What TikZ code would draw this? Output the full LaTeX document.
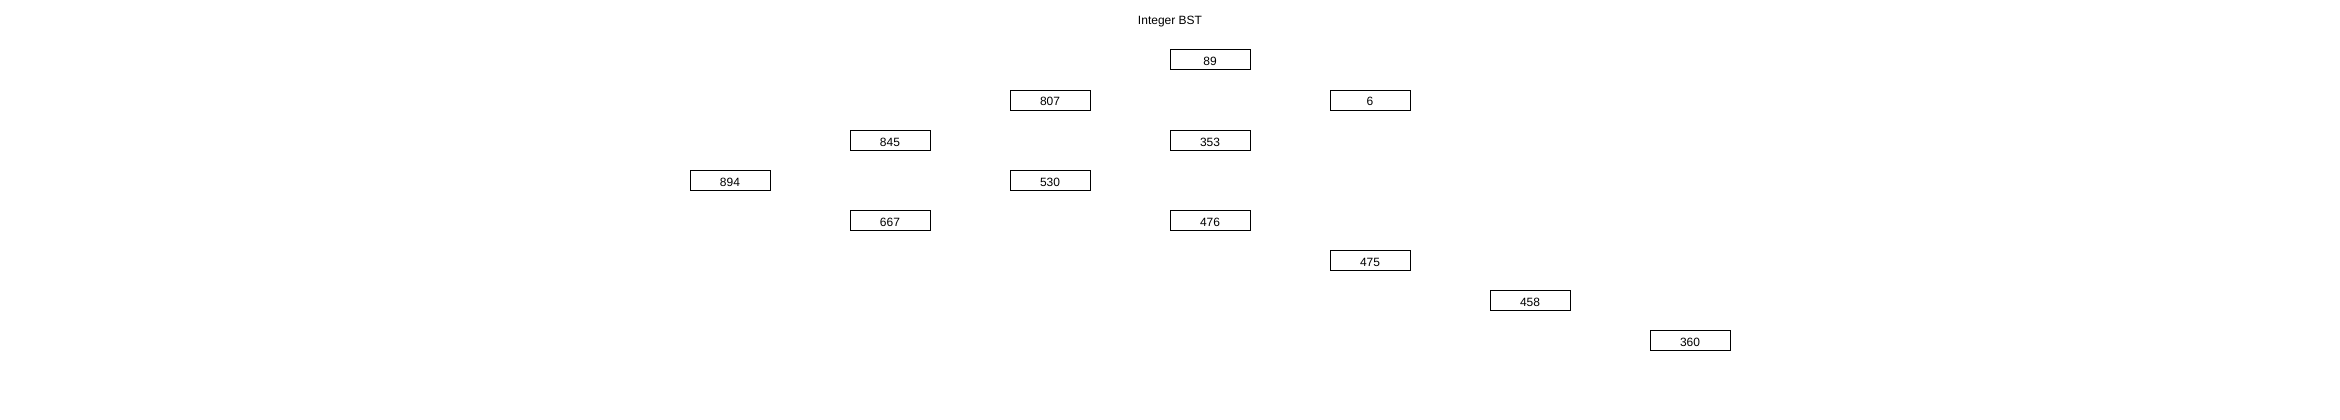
\documentclass[tikz,border=0pt]{standalone}
\usepackage{fontspec}
\setmainfont{Liberation Sans}
\begin{document}
\begin{tikzpicture}[x=1pt,y=-1pt,
  bstnode/.style={draw=black,line width=1pt,minimum width=80pt,minimum height=20pt,inner sep=0pt,text height=12pt,text depth=0pt,font=\fontsize{12}{14}\selectfont,anchor=center},
  titlestyle/.style={font=\fontsize{12}{14}\selectfont,inner sep=0pt,anchor=base}]
\fill[white] (0,0) rectangle (2340,420);
\useasboundingbox (0,0) rectangle (2340,420);
\node[titlestyle] (title) at (1170,25) {Integer BST};
\node[bstnode] (n89) at (1210,60) {89};
\node[bstnode] (n807) at (1050,100) {807};
\node[bstnode] (n6) at (1370,100) {6};
\node[bstnode] (n845) at (890,140) {845};
\node[bstnode] (n353) at (1210,140) {353};
\node[bstnode] (n894) at (730,180) {894};
\node[bstnode] (n530) at (1050,180) {530};
\node[bstnode] (n667) at (890,220) {667};
\node[bstnode] (n476) at (1210,220) {476};
\node[bstnode] (n475) at (1370,260) {475};
\node[bstnode] (n458) at (1530,300) {458};
\node[bstnode] (n360) at (1690,340) {360};
\end{tikzpicture}
\end{document}
